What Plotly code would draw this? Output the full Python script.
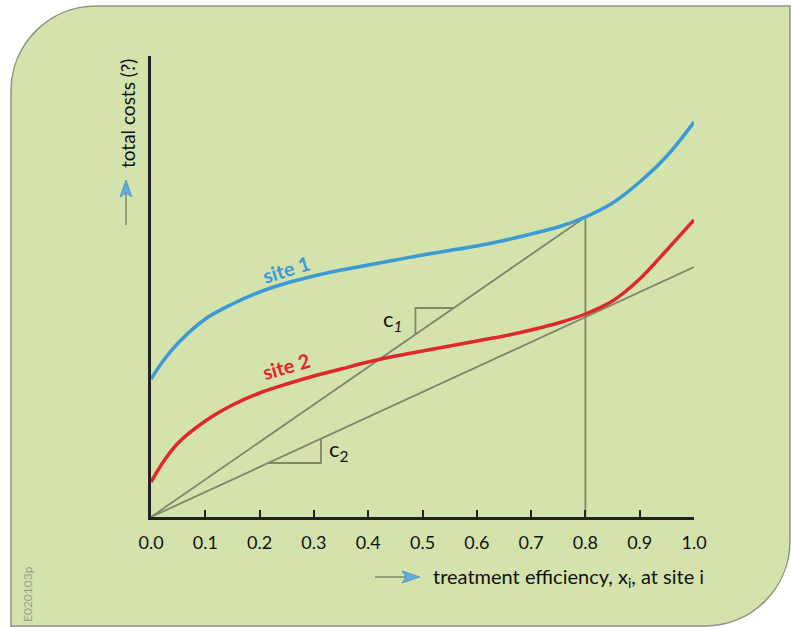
import plotly.graph_objects as go

# data (costs in arbitrary units)
x_pts = [0.0, 0.025, 0.05, 0.1, 0.15, 0.2, 0.25, 0.3, 0.35, 0.4, 0.45, 0.5,
         0.55, 0.6, 0.65, 0.7, 0.75, 0.8, 0.85, 0.9, 0.95, 1.0]
site1 = [1.38, 1.58, 1.74, 1.98, 2.13, 2.25, 2.34, 2.41, 2.47, 2.52, 2.57, 2.62,
         2.665, 2.71, 2.765, 2.83, 2.90, 3.00, 3.14, 3.35, 3.61, 3.95]
site2 = [0.35, 0.57, 0.74, 0.96, 1.12, 1.24, 1.33, 1.41, 1.48, 1.55, 1.61, 1.66,
         1.71, 1.76, 1.81, 1.87, 1.94, 2.03, 2.16, 2.38, 2.67, 2.97]

x_star = 0.8
c1 = 3.00 / 0.8   # slope of chord to site 1 at x*
c2 = 2.50         # slope of chord to site 2
tick_vals = [0.0, 0.1, 0.2, 0.3, 0.4, 0.5, 0.6, 0.7, 0.8, 0.9, 1.0]
tick_text = ["0.0", "0.1", "0.2", "0.3", "0.4", "0.5", "0.6", "0.7", "0.8", "0.9", "1.0"]

BLUE = "#3a9ad6"
RED = "#e0272b"
GREY = "#7c8868"
BG = "#d4e2ac"
FONT = "Lato"

W, H = 791, 627
L, R, T, B = 151, 97, 56, 110
pw, ph = W - L - R, H - T - B
YMAX = 4.61


def px(x):
    return (x - L) / pw


def py(y):
    return (H - B - y) / ph


fig = go.Figure()

gl = dict(color=GREY, width=1.8)
# chords from origin
fig.add_trace(go.Scatter(x=[0, x_star], y=[0, c1 * x_star], mode="lines", line=gl, hoverinfo="skip"))
fig.add_trace(go.Scatter(x=[0, 1.0], y=[0, c2 * 1.0], mode="lines", line=gl, hoverinfo="skip"))
# vertical at x*
fig.add_trace(go.Scatter(x=[x_star, x_star], y=[0, c1 * x_star], mode="lines", line=gl, hoverinfo="skip"))

# slope triangles
t1x, t1y = 0.487, 2.09
fig.add_trace(go.Scatter(x=[t1x, t1x, t1y / c1], y=[c1 * t1x, t1y, t1y], mode="lines", line=gl, hoverinfo="skip"))
t2x, t2y = 0.313, 0.54
fig.add_trace(go.Scatter(x=[t2y / c2, t2x, t2x], y=[t2y, t2y, c2 * t2x], mode="lines", line=gl, hoverinfo="skip"))

fig.add_trace(go.Scatter(x=x_pts, y=site1, mode="lines", line=dict(color=BLUE, width=3.5, shape="spline"),
                         name="site 1"))
fig.add_trace(go.Scatter(x=x_pts, y=site2, mode="lines", line=dict(color=RED, width=3.5, shape="spline"),
                         name="site 2"))

# rounded background panel
k = 0.552 * 85
panel = (f"M {px(11)},{py(640)} L {px(11)},{py(91)} "
         f"C {px(11)},{py(91 - k)} {px(96 - k)},{py(6)} {px(96)},{py(6)} "
         f"L {px(790)},{py(6)} L {px(790)},{py(541)} "
         f"C {px(790)},{py(541 + k)} {px(705 + k)},{py(626)} {px(705)},{py(626)} "
         f"L {px(11)},{py(626)} Z")
fig.add_shape(type="path", xref="paper", yref="paper", path=panel, layer="below",
              fillcolor=BG, line=dict(color="#8c9583", width=1.5))

# axis arrows
fig.add_shape(type="line", xref="paper", yref="paper", x0=px(126), y0=py(225), x1=px(126), y1=py(190),
              line=dict(color=GREY, width=1.5))
fig.add_shape(type="path", xref="paper", yref="paper",
              path=f"M {px(126)},{py(180)} L {px(132)},{py(197)} L {px(126)},{py(193)} L {px(120)},{py(197)} Z",
              fillcolor="#5aaee0", line=dict(color="#4a90b8", width=0.8))
fig.add_shape(type="line", xref="paper", yref="paper", x0=px(375), y0=py(577), x1=px(410), y1=py(577),
              line=dict(color=GREY, width=1.5))
fig.add_shape(type="path", xref="paper", yref="paper",
              path=f"M {px(420)},{py(577)} L {px(402)},{py(571)} L {px(406)},{py(577)} L {px(402)},{py(583)} Z",
              fillcolor="#5aaee0", line=dict(color="#4a90b8", width=0.8))

fig.add_annotation(x=px(127), y=py(114), xref="paper", yref="paper", xanchor="center", yanchor="middle",
                   text="total costs (?)", textangle=-90, showarrow=False,
                   font=dict(family=FONT, size=19, color="#111"))
fig.add_annotation(x=px(431), y=py(577), xref="paper", yref="paper", xanchor="left", yanchor="middle",
                   text="treatment efficiency, x<sub>i</sub>, at site i",
                   showarrow=False, font=dict(family=FONT, size=20, color="#111"))
fig.add_annotation(x=px(27), y=py(594), xref="paper", yref="paper", xanchor="center", yanchor="middle",
                   text="E020103p", textangle=-90, showarrow=False,
                   font=dict(family=FONT, size=12, color="#9a9f92"))

fig.add_annotation(x=0.249, y=2.48, text="<b>site 1</b>", textangle=-17, showarrow=False,
                   font=dict(family=FONT, size=20, color=BLUE))
fig.add_annotation(x=0.249, y=1.51, text="<b>site 2</b>", textangle=-16, showarrow=False,
                   font=dict(family=FONT, size=20, color=RED))
fig.add_annotation(x=0.444, y=1.97, text="c<sub><i>1</i></sub>", showarrow=False,
                   font=dict(family=FONT, size=22, color="#111"))
fig.add_annotation(x=0.347, y=0.67, text="c<sub>2</sub>", showarrow=False,
                   font=dict(family=FONT, size=22, color="#111"))

fig.update_xaxes(range=[0, 1.0], showgrid=False, zeroline=False, showline=True, linecolor="#222",
                 linewidth=2.5, ticks="inside", ticklen=7, tickwidth=1.5, tickcolor="#222",
                 tickvals=tick_vals, ticktext=tick_text, ticklabelstandoff=8,
                 tickfont=dict(family=FONT, size=18, color="#111"))
fig.update_yaxes(range=[0, YMAX], showgrid=False, zeroline=False, showline=True, linecolor="#222",
                 linewidth=2.5, showticklabels=False, ticks="")

fig.update_layout(width=W, height=H, margin=dict(l=L, r=R, t=T, b=B), showlegend=False,
                  paper_bgcolor="white", plot_bgcolor="rgba(0,0,0,0)")

fig.write_html("out.html", config={"displayModeBar": False},
               post_script="document.body.style.margin='0';")
